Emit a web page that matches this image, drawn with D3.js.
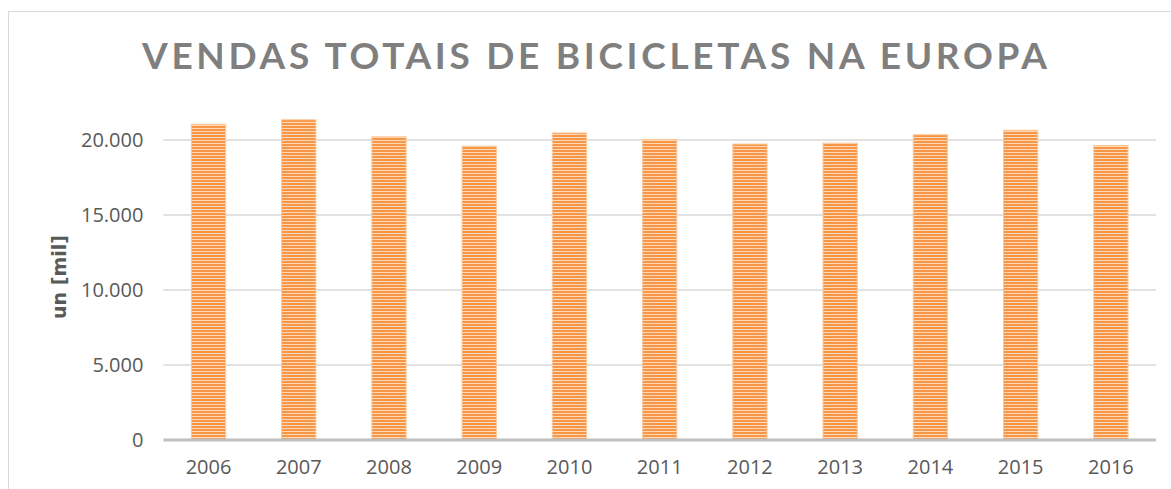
<!DOCTYPE html>
<html>
<head>
    <meta charset='utf-8'>
    <title>Vendas totais de bicicletas na Europa</title>
    <style>
        body { margin: 0; background: #fff; }
    </style>
</head>
<body>
<svg width="1171" height="489"></svg>
<script src="https://d3js.org/d3.v7.min.js"></script>
<script>
    const years = ["2006", "2007", "2008", "2009", "2010", "2011", "2012", "2013", "2014", "2015", "2016"]
    const sales = [21050, 21350, 20210, 19590, 20470, 20040, 19730, 19790, 20350, 20650, 19630]
    const yTicks = [0, 5000, 10000, 15000, 20000]

    const width = 1171
    const height = 489
    const margin = ({top: 140, right: 15, bottom: 49, left: 163.4})
    const yMax = 20000
    const tickFont = "'Open Sans', sans-serif"
    const textColor = "#595959"

    const formatNum = d => d3.format(",")(d).replace(/,/g, ".")

    const svg = d3.select("svg")

    // striped fill like the original
    const pattern = svg.append("defs")
        .append("pattern")
        .attr("id", "stripes")
        .attr("patternUnits", "userSpaceOnUse")
        .attr("width", 8)
        .attr("height", 3)
    pattern.append("rect")
        .attr("width", 8).attr("height", 3)
        .attr("fill", "#f79646")
    pattern.append("rect")
        .attr("y", 2).attr("width", 8).attr("height", 1)
        .attr("fill", "#fdd9b8")

    // chart frame
    svg.append("rect")
        .attr("x", 8.5).attr("y", 11.5)
        .attr("width", 1300).attr("height", 600)
        .attr("fill", "none")
        .attr("stroke", "#d9d9d9")

    const x = d3.scaleBand()
        .domain(years)
        .range([margin.left, width - margin.right])
        .paddingInner(0.62)
        .paddingOuter(0.31)

    const y = d3.scaleLinear()
        .domain([0, yMax])
        .range([440, margin.top])

    // gridlines
    svg.append("g")
        .attr("stroke", "#d9d9d9")
        .attr("stroke-width", 1.5)
        .selectAll("line")
        .data(yTicks.filter(d => d > 0))
        .join("line")
        .attr("x1", margin.left)
        .attr("x2", width - margin.right)
        .attr("y1", d => y(d))
        .attr("y2", d => y(d))

    // bars
    svg.append("g")
        .selectAll("rect")
        .data(years)
        .join("rect")
        .attr("x", d => x(d))
        .attr("y", (d, i) => y(sales[i]))
        .attr("width", x.bandwidth())
        .attr("height", (d, i) => y(0) - y(sales[i]))
        .attr("fill", "url(#stripes)")
        .attr("stroke", "#fbc89c")
        .attr("stroke-width", 1)

    // baseline
    svg.append("line")
        .attr("x1", margin.left)
        .attr("x2", width - margin.right)
        .attr("y1", y(0))
        .attr("y2", y(0))
        .attr("stroke", "#bfbfbf")
        .attr("stroke-width", 3)

    // y axis
    const yAxis = g => g
        .attr("transform", `translate(${margin.left},0)`)
        .call(d3.axisLeft(y).tickValues(yTicks).tickFormat(formatNum).tickSize(0).tickPadding(20))
        .call(g => g.select(".domain").remove())
        .call(g => g.selectAll("text")
            .attr("font-family", tickFont)
            .attr("font-size", 20)
            .attr("fill", textColor))
    svg.append("g").call(yAxis)

    // x axis
    const xAxis = g => g
        .attr("transform", `translate(0,${y(0)})`)
        .call(d3.axisBottom(x).tickSize(0).tickPadding(20))
        .call(g => g.select(".domain").remove())
        .call(g => g.selectAll("text")
            .attr("font-family", tickFont)
            .attr("font-size", 20)
            .attr("fill", textColor))
    svg.append("g").call(xAxis)

    // axis title
    svg.append("text")
        .attr("transform", "translate(66,277) rotate(-90)")
        .attr("text-anchor", "middle")
        .attr("font-family", "'DejaVu Sans', sans-serif")
        .attr("font-size", 19)
        .attr("font-weight", "bold")
        .attr("fill", "#595959")
        .text("un [mil]")

    // title
    svg.append("text")
        .attr("x", 142)
        .attr("y", 69)
        .attr("font-family", "Lato, sans-serif")
        .attr("font-size", 37)
        .attr("font-weight", "bold")
        .attr("fill", "#7f7f7f")
        .attr("textLength", 905)
        .attr("lengthAdjust", "spacing")
        .text("VENDAS TOTAIS DE BICICLETAS NA EUROPA")
</script>
</body>
</html>
